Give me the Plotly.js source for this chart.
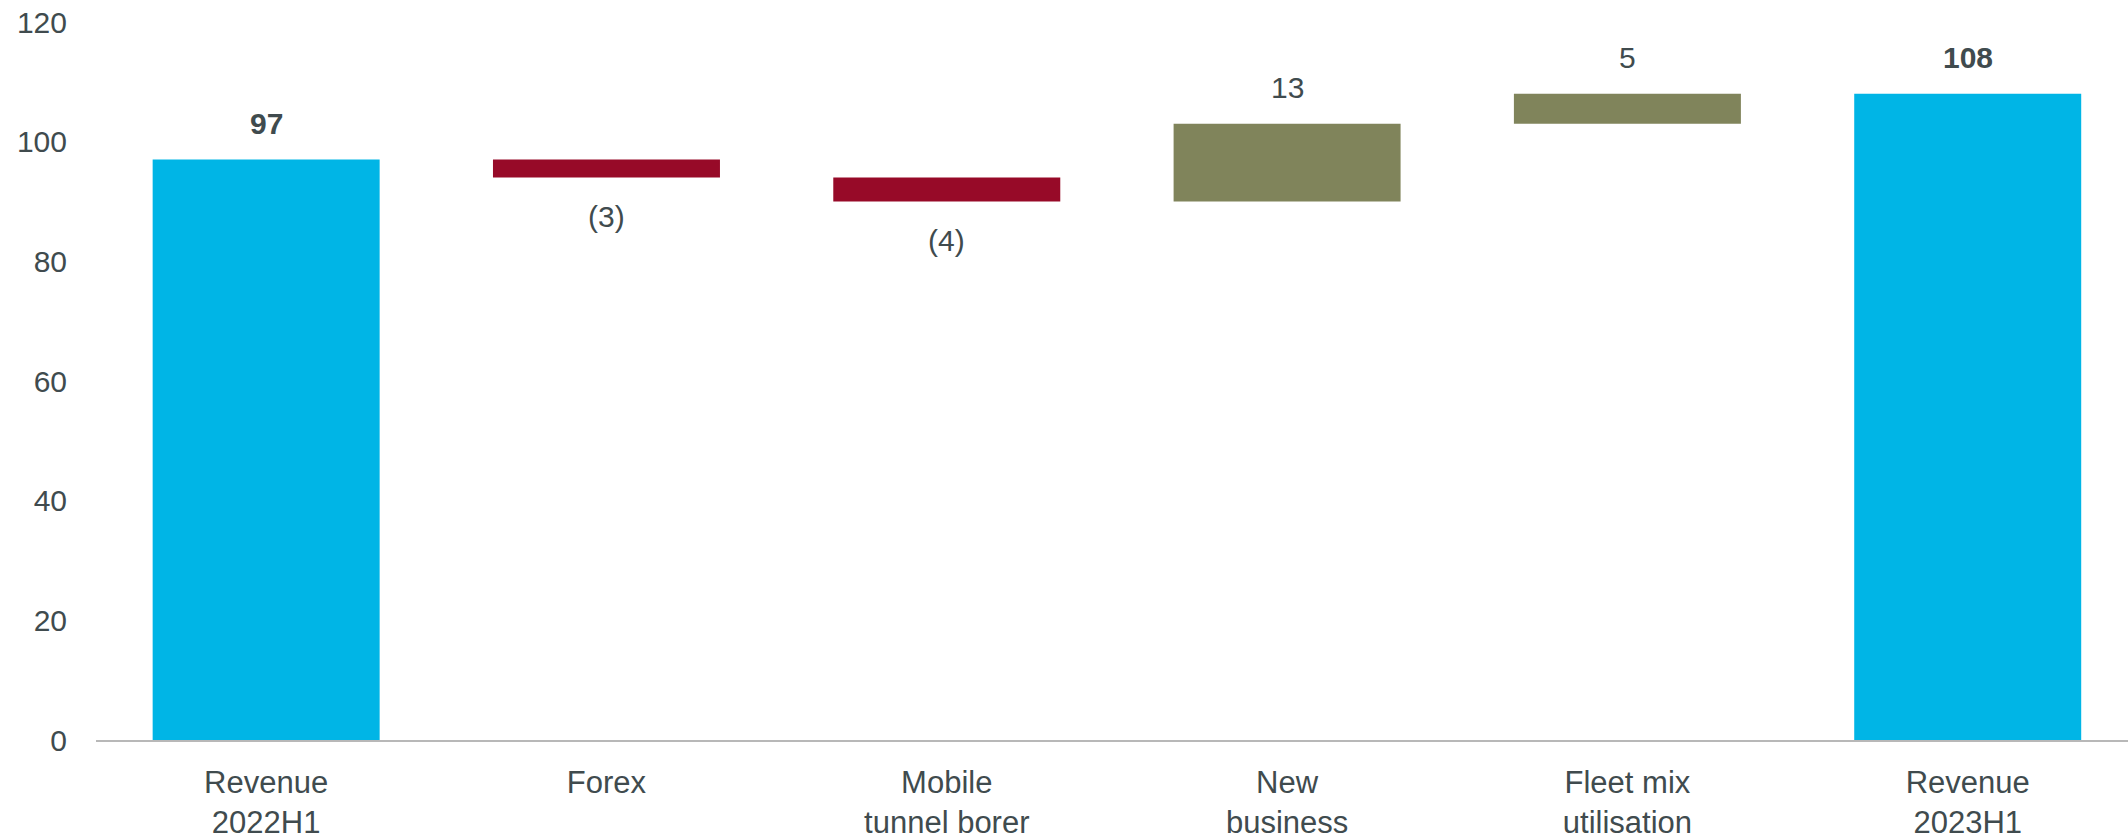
<!DOCTYPE html>
<html>
<head>
<meta charset="utf-8">
<script src="https://cdn.plot.ly/plotly-3.0.1.min.js"></script>
<style>
  html, body { margin: 0; padding: 0; background: #ffffff; }
  #chart { width: 2128px; height: 840px; }
</style>
</head>
<body>
<div id="chart"></div>
<script>
// ---- data ----
const categories = [
  "Revenue<br>2022H1",
  "Forex",
  "Mobile<br>tunnel borer",
  "New<br>business",
  "Fleet mix<br>utilisation",
  "Revenue<br>2023H1"
];
const measures = ["absolute", "relative", "relative", "relative", "relative", "total"];
const values = [97, -3, -4, 13, 5, 108];
const yTicks = [0, 20, 40, 60, 80, 100, 120];

// ---- styles ----
const BLUE = "#00B5E6";
const RED = "#970A28";
const OLIVE = "#80845B";
const TEXT = "#404B4E";
const FONT = "Liberation Sans, Arial, sans-serif";

// ---- labels computed from the data ----
const annotations = [];
let running = 0;
values.forEach((v, i) => {
  const m = measures[i];
  let top, bottom, label, bold = false;
  if (m === "absolute") { running = v; top = v; bottom = 0; label = String(v); bold = true; }
  else if (m === "total") { top = running; bottom = 0; label = String(running); bold = true; }
  else {
    const prev = running; running += v;
    top = Math.max(prev, running); bottom = Math.min(prev, running);
    label = v < 0 ? "(" + Math.abs(v) + ")" : String(v);
  }
  const neg = (m === "relative" && v < 0);
  annotations.push({
    x: categories[i],
    y: neg ? bottom : top,
    xref: "x", yref: "y",
    text: bold ? "<b>" + label + "</b>" : label,
    showarrow: false,
    yanchor: neg ? "top" : "bottom",
    yshift: neg ? -20 : 18,
    font: { family: FONT, size: 30, color: TEXT }
  });
});

const trace = {
  type: "waterfall",
  x: categories,
  y: values,
  measure: measures,
  width: 0.667,
  connector: { visible: false },
  increasing: { marker: { color: OLIVE } },
  decreasing: { marker: { color: RED } },
  totals: { marker: { color: BLUE } },
  textposition: "none",
  hoverinfo: "skip"
};

const layout = {
  width: 2128,
  height: 840,
  margin: { l: 96, r: 0, t: 22, b: 100, pad: 0 },
  paper_bgcolor: "#ffffff",
  plot_bgcolor: "#ffffff",
  showlegend: false,
  font: { family: FONT, size: 30, color: TEXT },
  xaxis: {
    type: "category",
    range: [-0.5, 5.471],
    showline: true,
    linecolor: "#B8B8B8",
    linewidth: 1.5,
    showgrid: false,
    zeroline: false,
    ticks: "",
    ticklabelstandoff: 14,
    tickfont: { family: FONT, size: 31, color: TEXT }
  },
  yaxis: {
    range: [0, 120],
    tickvals: yTicks,
    ticktext: yTicks.map(String),
    showline: false,
    showgrid: false,
    zeroline: false,
    ticks: "",
    ticklabelstandoff: 28,
    tickfont: { family: FONT, size: 30, color: TEXT }
  },
  annotations: annotations
};

Plotly.newPlot("chart", [trace], layout, { displayModeBar: false, staticPlot: true });
</script>
</body>
</html>
